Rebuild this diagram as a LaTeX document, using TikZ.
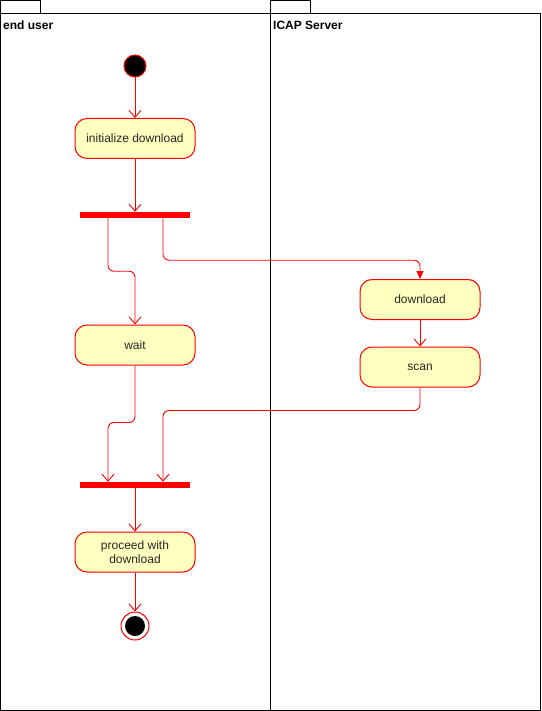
\documentclass[tikz,border=0pt]{standalone}
\usepackage{fontspec}
\setmainfont{Liberation Sans}
\usetikzlibrary{arrows.meta,calc}
\definecolor{actfill}{HTML}{FFFFC0}
\definecolor{actred}{HTML}{FF0000}
\begin{document}
\begin{tikzpicture}[x=1pt,y=-1pt,
  lane/.style={draw=black,line width=1pt},
  act/.style={draw=actred,fill=actfill,line width=1pt,rounded corners=12pt,minimum width=120pt,minimum height=40pt,inner sep=2pt,align=center,font=\fontsize{12}{14}\selectfont,text=black!85},
  forkbar/.style={draw=none,fill=actred,minimum width=110pt,minimum height=6pt,inner sep=0pt},
  flow/.style={draw=actred,line width=0.9pt,rounded corners=6pt,-{Straight Barb[length=7pt,width=12pt,line width=0.9pt]}},
  flowb/.style={draw=actred,line width=0.9pt,rounded corners=6pt,-{Triangle[length=8pt,width=7pt]}},
  lanelabel/.style={anchor=north west,inner sep=0pt,font=\bfseries\fontsize{12}{14}\selectfont}
]
\useasboundingbox (0,0) rectangle (541,711);
% swimlanes
\draw[lane] (0.5,0.5) rectangle (40,14);
\draw[lane] (270,0.5) rectangle (310,14);
\draw[lane] (0.5,14) rectangle (270,710.5);
\draw[lane] (270,14) rectangle (540.5,710.5);
\node[lanelabel] (l1) at (3,20.5) {end user};
\node[lanelabel] (l2) at (273,20.5) {ICAP Server};
% nodes
\node[circle,draw=actred,fill=black,line width=1pt,minimum size=22pt,inner sep=0pt] (start) at (135,66) {};
\node[act] (init) at (135,138.5) {initialize download};
\node[forkbar] (bar1) at (135,215) {};
\node[act] (wait) at (135,345) {wait};
\node[act] (download) at (420,299.5) {download};
\node[act] (scan) at (420,367) {scan};
\node[forkbar] (bar2) at (135,485) {};
\node[act] (proceed) at (135,552) {proceed with\\download};
\node[circle,draw=actred,line width=1pt,minimum size=28pt,inner sep=0pt] (end) at (135,626) {};
\node[circle,fill=black,minimum size=20pt,inner sep=0pt] (endin) at (end.center) {};
% edges
\draw[flow] (start) -- (init);
\draw[flow] (init) -- (bar1);
\draw[flow] ($(bar1.south)+(-27,0)$) -- ++(0,53) -| (wait.north);
\draw[flowb] ($(bar1.south)+(28,0)$) -- ++(0,42) -| (download.north);
\draw[flow] (download) -- (scan);
\draw[flow] (wait.south) -- ++(0,57) -| ($(bar2.north)+(-27,0)$);
\draw[flow] (scan.south) -- ++(0,23) -| ($(bar2.north)+(28,0)$);
\draw[flow] (bar2) -- (proceed);
\draw[flow] (proceed) -- (end);
\end{tikzpicture}
\end{document}
